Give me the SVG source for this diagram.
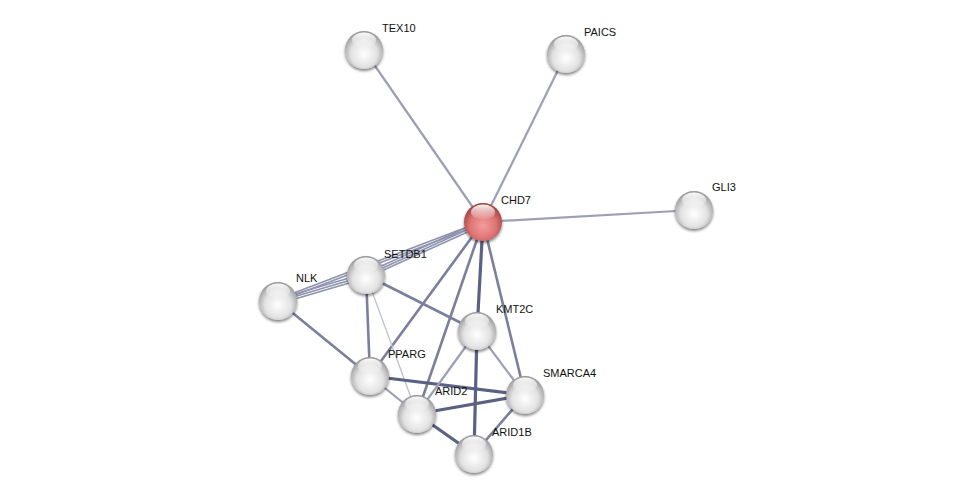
<svg xmlns="http://www.w3.org/2000/svg" width="976" height="499" viewBox="0 0 976 499">
<defs>
<radialGradient id="gw" cx="0.5" cy="0.6" r="0.58">
<stop offset="0" stop-color="#ffffff"/>
<stop offset="0.6" stop-color="#e2e2e2"/>
<stop offset="1" stop-color="#9a9a9a"/>
</radialGradient>
<radialGradient id="gr" cx="0.5" cy="0.6" r="0.58">
<stop offset="0" stop-color="#f49c9c"/>
<stop offset="0.6" stop-color="#dd7474"/>
<stop offset="1" stop-color="#a04040"/>
</radialGradient>
<linearGradient id="hl" x1="0" y1="0" x2="0" y2="1">
<stop offset="0" stop-color="#ffffff" stop-opacity="0.95"/>
<stop offset="1" stop-color="#ffffff" stop-opacity="0.05"/>
</linearGradient>
<filter id="sh" x="-30%" y="-30%" width="160%" height="170%">
<feGaussianBlur in="SourceAlpha" stdDeviation="1.5"/>
<feOffset dx="0" dy="2"/>
<feComponentTransfer><feFuncA type="linear" slope="0.5"/></feComponentTransfer>
<feMerge><feMergeNode/><feMergeNode in="SourceGraphic"/></feMerge>
</filter>
</defs>
<style>
text{font-family:"Liberation Sans",Arial,sans-serif;font-size:11px;fill:#111}
.e{stroke-linecap:butt;fill:none}
.l{stroke:#9c9fb6;stroke-width:2.2}
.m{stroke:#7b7f9c;stroke-width:2.6}
.d{stroke:#5b6183;stroke-width:3.2}
.t{stroke:#c2c4d3;stroke-width:1.4}
.ml{stroke:#8e92ad;stroke-width:1.6}
.node circle.b{stroke:none}
</style>
<rect width="976" height="499" fill="#ffffff"/>
<g id="edges">
<line class="e l" x1="483" y1="222" x2="364" y2="50"/>
<line class="e l" x1="483" y1="222" x2="566" y2="54"/>
<line class="e l" x1="483" y1="222" x2="694" y2="210"/>
<line class="e m" x1="483" y1="222" x2="370" y2="376"/>
<line class="e m" x1="483" y1="222" x2="417" y2="414"/>
<line class="e d" x1="483" y1="222" x2="477" y2="331"/>
<line class="e m" x1="483" y1="222" x2="525" y2="395"/>
<g class="e ml">
<line x1="483" y1="220" x2="366" y2="273"/>
<line x1="483" y1="222.5" x2="366" y2="275.5"/>
<line x1="483" y1="225" x2="366" y2="278"/>
<line x1="483" y1="221" x2="278" y2="299"/>
<line x1="483" y1="223.5" x2="278" y2="301.5"/>
<line x1="366" y1="273" x2="278" y2="299"/>
<line x1="366" y1="275.5" x2="278" y2="301.5"/>
<line x1="366" y1="278" x2="278" y2="304"/>
</g>
<line class="e m" x1="366" y1="275" x2="477" y2="331"/>
<line class="e m" x1="366" y1="275" x2="370" y2="376"/>
<line class="e t" x1="366" y1="275" x2="417" y2="414"/>
<line class="e m" x1="278" y1="301" x2="370" y2="376"/>
<line class="e d" x1="370" y1="376" x2="525" y2="395"/>
<line class="e l" x1="370" y1="376" x2="417" y2="414"/>
<line class="e d" x1="417" y1="414" x2="525" y2="395"/>
<line class="e d" x1="417" y1="414" x2="474" y2="454"/>
<line class="e l" x1="417" y1="414" x2="477" y2="331"/>
<line class="e m" x1="525" y1="395" x2="474" y2="454"/>
<line class="e l" x1="525" y1="395" x2="477" y2="331"/>
<line class="e d" x1="477" y1="331" x2="474" y2="454"/>
</g>
<g id="TEX10" class="node"><g filter="url(#sh)"><circle class="b" cx="364" cy="50" r="19" fill="url(#gw)"/></g><ellipse cx="364" cy="40" rx="12" ry="7.5" fill="url(#hl)"/><text x="382" y="32">TEX10</text></g>
<g id="PAICS" class="node"><g filter="url(#sh)"><circle class="b" cx="566" cy="54" r="19" fill="url(#gw)"/></g><ellipse cx="566" cy="44" rx="12" ry="7.5" fill="url(#hl)"/><text x="584" y="36">PAICS</text></g>
<g id="GLI3" class="node"><g filter="url(#sh)"><circle class="b" cx="694" cy="210" r="19" fill="url(#gw)"/></g><ellipse cx="694" cy="200" rx="12" ry="7.5" fill="url(#hl)"/><text x="712" y="191">GLI3</text></g>
<g id="NLK" class="node"><g filter="url(#sh)"><circle class="b" cx="278" cy="301" r="19" fill="url(#gw)"/></g><ellipse cx="278" cy="291" rx="12" ry="7.5" fill="url(#hl)"/><text x="296" y="282">NLK</text></g>
<g id="SETDB1" class="node"><g filter="url(#sh)"><circle class="b" cx="366" cy="275" r="19" fill="url(#gw)"/></g><ellipse cx="366" cy="265" rx="12" ry="7.5" fill="url(#hl)"/><text x="384" y="258">SETDB1</text></g>
<g id="KMT2C" class="node"><g filter="url(#sh)"><circle class="b" cx="477" cy="331" r="19" fill="url(#gw)"/></g><ellipse cx="477" cy="321" rx="12" ry="7.5" fill="url(#hl)"/><text x="496" y="313">KMT2C</text></g>
<g id="PPARG" class="node"><g filter="url(#sh)"><circle class="b" cx="370" cy="376" r="19" fill="url(#gw)"/></g><ellipse cx="370" cy="366" rx="12" ry="7.5" fill="url(#hl)"/><text x="388" y="358">PPARG</text></g>
<g id="SMARCA4" class="node"><g filter="url(#sh)"><circle class="b" cx="525" cy="395" r="19" fill="url(#gw)"/></g><ellipse cx="525" cy="385" rx="12" ry="7.5" fill="url(#hl)"/><text x="543" y="377">SMARCA4</text></g>
<g id="ARID2" class="node"><g filter="url(#sh)"><circle class="b" cx="417" cy="414" r="19" fill="url(#gw)"/></g><ellipse cx="417" cy="404" rx="12" ry="7.5" fill="url(#hl)"/><text x="435" y="395">ARID2</text></g>
<g id="ARID1B" class="node"><g filter="url(#sh)"><circle class="b" cx="474" cy="454" r="19" fill="url(#gw)"/></g><ellipse cx="474" cy="444" rx="12" ry="7.5" fill="url(#hl)"/><text x="492" y="436">ARID1B</text></g>
<g id="CHD7" class="node"><g filter="url(#sh)"><circle class="b" cx="483" cy="222" r="19" fill="url(#gr)"/></g><ellipse cx="483" cy="212" rx="12" ry="7.5" fill="url(#hl)"/><text x="501" y="204">CHD7</text></g>
</svg>
